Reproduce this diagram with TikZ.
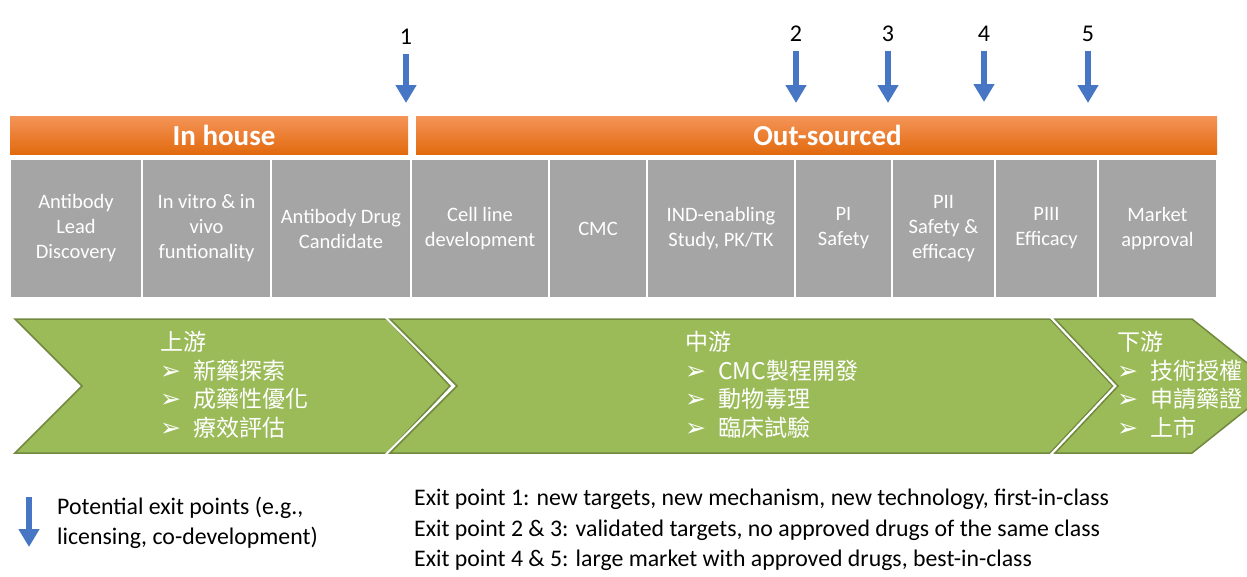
\documentclass[tikz,border=0pt]{standalone}
\usepackage{fontspec}
\setmainfont{Carlito}
\newfontfamily\cjkfont{Noto Sans CJK TC}
\newfontfamily\symfont{DejaVu Sans}
\usetikzlibrary{arrows.meta, positioning}
\usepackage{xcolor}
\definecolor{stagegray}{RGB}{165,165,165}
\definecolor{leafgreen}{RGB}{155,187,89}
\definecolor{edgegreen}{RGB}{113,137,63}
\definecolor{orangetop}{RGB}{244,148,88}
\definecolor{orangebot}{RGB}{226,106,14}
\definecolor{exitblue}{RGB}{70,118,196}
\newcommand{\bul}{\makebox[33pt][l]{\symfont\fontsize{25}{25}\selectfont ➢}}

\begin{document}
\begin{tikzpicture}[x=1pt, y=-1pt]
  \tikzset{
    phasebar/.style={
      top color=orangetop,
      bottom color=orangebot,
      minimum height=38,
      inner sep=0,
      text=white,
      font=\fontsize{29}{30}\selectfont\bfseries
    },
    stagebox/.style={
      fill=stagegray,
      draw=white,
      line width=2.5,
      minimum height=140,
      inner sep=0,
      text=white,
      align=center,
      font=\fontsize{20.5}{25}\selectfont
    },
    chevron/.style={
      fill=leafgreen,
      draw=edgegreen,
      line width=1.5
    },
    chevgap/.style={
      draw=white,
      line width=6
    },
    flowtext/.style={
      text=white,
      align=left,
      anchor=north west,
      inner sep=0,
      font=\cjkfont\fontsize{23}{28.7}\selectfont
    },
    exitnum/.style={
      inner sep=0,
      font=\fontsize{24}{24}\selectfont
    },
    exitarrow/.style={
      draw=exitblue,
      line width=6.5,
      -{Triangle[length=18pt, width=20pt]},
      shorten <=9pt
    },
    note/.style={
      anchor=west,
      align=left,
      inner sep=0,
      font=\fontsize{23.8}{30.5}\selectfont
    }
  }
  \useasboundingbox (0,0) rectangle (1247,576);
  \clip (0,0) rectangle (1247,576);

  % Exit points above the bars
  \node[exitnum] at (406,37) (n1) {1};
  \coordinate (t1) at (406,103);
  \draw[exitarrow] (n1) -- (t1);
  \node[exitnum] at (796,34) (n2) {2};
  \coordinate (t2) at (796,103);
  \draw[exitarrow] (n2) -- (t2);
  \node[exitnum] at (888,34) (n3) {3};
  \coordinate (t3) at (888,103);
  \draw[exitarrow] (n3) -- (t3);
  \node[exitnum] at (984,34) (n4) {4};
  \coordinate (t4) at (984,102);
  \draw[exitarrow] (n4) -- (t4);
  \node[exitnum] at (1088,34) (n5) {5};
  \coordinate (t5) at (1088,103);
  \draw[exitarrow] (n5) -- (t5);

  % Orange bars
  \node[phasebar, minimum width=398] at (209,135) (inhouse) {\hspace*{30pt}In house};
  \node[phasebar, minimum width=801] at (816.5,135) (outsourced) {\hspace*{22pt}Out-sourced};

  % Stage boxes
  \node[stagebox, minimum width=132] at (76,228.5) (s1) {Antibody\\Lead\\Discovery};
  \node[stagebox, minimum width=129] at (206.5,228.5) (s2) {In vitro \& in\\vivo\\funtionality};
  \node[stagebox, minimum width=140] at (341,228.5) (s3) {Antibody Drug\\Candidate};
  \node[stagebox, minimum width=138] at (480,228.5) (s4) {Cell line\\development};
  \node[stagebox, minimum width=98] at (598,228.5) (s5) {CMC};
  \node[stagebox, minimum width=148] at (721,228.5) (s6) {IND-enabling\\Study, PK/TK};
  \node[stagebox, minimum width=97] at (843.5,228.5) (s7) {PI\\Safety};
  \node[stagebox, minimum width=103] at (943.5,228.5) (s8) {PII\\Safety \&\\efficacy};
  \node[stagebox, minimum width=103] at (1046.5,228.5) (s9) {PIII\\Efficacy};
  \node[stagebox, minimum width=119] at (1157.5,228.5) (s10) {Market\\approval};

  % Chevrons
  \path[chevron] (15,319) -- (387,319) -- (450,386) -- (387,453) -- (15,453) -- (82,386) -- cycle;
  \path[chevgap] (390,319) -- (1050,319) -- (1113,386) -- (1050,453) -- (390,453) -- (457,386) -- cycle;
  \path[chevron] (390,319) -- (1050,319) -- (1113,386) -- (1050,453) -- (390,453) -- (457,386) -- cycle;
  \path[chevgap] (1055,319) -- (1192,319) -- (1276,386) -- (1192,453) -- (1055,453) -- (1118,386) -- cycle;
  \path[chevron] (1055,319) -- (1192,319) -- (1276,386) -- (1192,453) -- (1055,453) -- (1118,386) -- cycle;

  \node[flowtext] at (160,331) (up) {上游\\\bul 新藥探索\\\bul 成藥性優化\\\bul 療效評估};
  \node[flowtext] at (685,331) (mid) {中游\\\bul CMC製程開發\\\bul 動物毒理\\\bul 臨床試驗};
  \node[flowtext] at (1117,331) (down) {下游\\\bul 技術授權\\\bul 申請藥證\\\bul 上市};

  % Legend
  \coordinate (la) at (29,488);
  \coordinate (lb) at (29,547);
  \draw[exitarrow] (la) -- (lb);
  \node[note] at (57,523) (legend) {Potential exit points (e.g.,\\licensing, co-development)};
  \node[note] at (414,530) (exits) {Exit point 1: new targets, new mechanism, new technology, first-in-class\\Exit point 2 \& 3: validated targets, no approved drugs of the same class\\Exit point 4 \& 5: large market with approved drugs, best-in-class};
\end{tikzpicture}
\end{document}
